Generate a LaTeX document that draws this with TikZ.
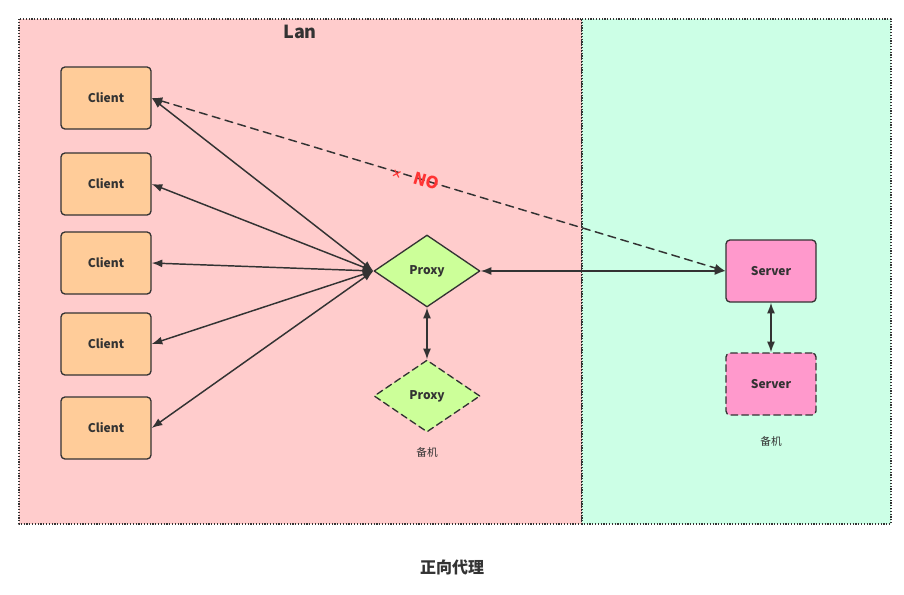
\documentclass[tikz,border=0pt]{standalone}
\usepackage{fontspec}
\setmainfont{Noto Sans CJK SC}
\usepackage{tikz}
\usetikzlibrary{arrows.meta,shapes.geometric}
\definecolor{lanbg}{HTML}{FFCCCC}
\definecolor{wanbg}{HTML}{CCFFE6}
\definecolor{clientfill}{HTML}{FFCC99}
\definecolor{proxyfill}{HTML}{CCFF99}
\definecolor{serverfill}{HTML}{FF99CC}
\definecolor{ink}{HTML}{333333}
\definecolor{nored}{HTML}{FF3333}
\tikzset{
  zone/.style={draw=ink, line width=1pt, dash pattern=on 0.9pt off 1.2pt, line cap=butt},
  client/.style={rectangle, rounded corners=3pt, draw=ink, line width=1pt, fill=clientfill,
    minimum width=67.5pt, minimum height=46.5pt, font=\bfseries\fontsize{9}{10}\selectfont, text=ink},
  proxy/.style={diamond, draw=ink, line width=1pt, fill=proxyfill, inner sep=0pt,
    minimum width=79.5pt, minimum height=54pt, font=\bfseries\fontsize{9}{10}\selectfont, text=ink},
  server/.style={rectangle, rounded corners=3pt, draw=ink, line width=1pt, fill=serverfill,
    minimum width=67.5pt, minimum height=46.5pt, font=\bfseries\fontsize{9}{10}\selectfont, text=ink},
  backup/.style={dashed, dash pattern=on 5pt off 3pt},
  note/.style={font=\fontsize{8}{9}\selectfont, text=ink},
  link/.style={draw=ink, line width=1.1pt, {Latex[length=8pt,width=6pt]}-{Latex[length=8pt,width=6pt]}},
  every picture/.style={line cap=round, line join=round}
}

\begin{document}
\begin{tikzpicture}[x=0.75pt, y=-0.75pt]
  \useasboundingbox (0,0) rectangle (904,594);
  % zones
  \filldraw[zone, fill=lanbg] (19,19) rectangle (582,524);
  \filldraw[zone, fill=wanbg] (582,19) rectangle (891,524);
  \node[font=\bfseries\fontsize{13.5}{15}\selectfont, text=ink] (lan) at (300,32) {Lan};

  % clients
  \node[client] (c1) at (106,98) {Client};
  \node[client] (c2) at (106,184) {Client};
  \node[client] (c3) at (106,263) {Client};
  \node[client] (c4) at (106,344) {Client};
  \node[client] (c5) at (106,428) {Client};

  % proxies
  \node[proxy] (px) at (427,271) {Proxy};
  \node[proxy, backup] (pxb) at (427,396) {Proxy};
  \node[note] (pxnote) at (427,452) {备机};

  % servers
  \node[server] (sv) at (771,271) {Server};
  \node[server, backup] (svb) at (771,384) {Server};
  \node[note] (svnote) at (771,441) {备机};

  \draw[link] (px.west) -- (c1.east);
  \draw[link] (px.west) -- (c2.east);
  \draw[link] (px.west) -- (c3.east);
  \draw[link] (px.west) -- (c4.east);
  \draw[link] (px.west) -- (c5.east);
  \draw[link] (px.east) -- (sv.west);
  \draw[link] (px.south) -- (pxb.north);
  \draw[link] (sv.south) -- (svb.north);

  % direct access is blocked
  \draw[link, dashed, dash pattern=on 6pt off 4pt] (c1.east) -- (sv.west)
    node[pos=0.46, sloped, text=nored, font=\bfseries\fontsize{12.5}{14}\selectfont] (no)
    {{\fontsize{8}{9}\selectfont ×}\hspace{9pt}NO};

  \node[font=\bfseries\fontsize{12}{14}\selectfont, text=ink] (title) at (452,567) {正向代理};
\end{tikzpicture}
\end{document}
